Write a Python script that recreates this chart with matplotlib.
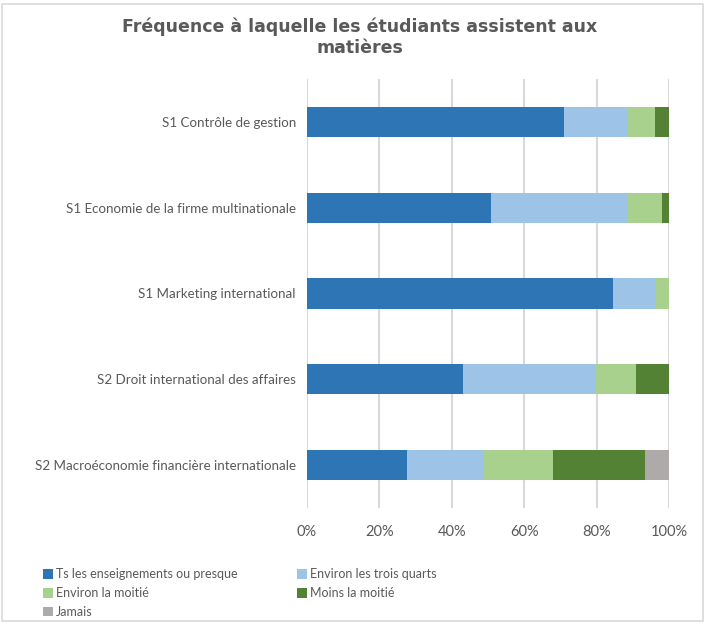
import matplotlib
matplotlib.use("Agg")
import matplotlib.pyplot as plt
import numpy as np
from matplotlib.patches import Rectangle, Patch

plt.rcParams['font.family'] = ['Lato', 'DejaVu Sans']

# data (shares in %)
courses = ['S1 Contrôle de gestion',
           'S1 Economie de la firme multinationale',
           'S1 Marketing international',
           'S2 Droit international des affaires',
           'S2 Macroéconomie financière internationale']
series = ['Ts les enseignements ou presque', 'Environ les trois quarts',
          'Environ la moitié', 'Moins la moitié', 'Jamais']
ts_les = [71.0, 50.9, 84.6, 43.2, 27.6]
trois_quarts = [17.5, 37.7, 11.5, 36.4, 21.2]
moitie = [7.5, 9.4, 3.9, 11.4, 19.2]
moins_moitie = [4.0, 2.0, 0.0, 9.0, 25.4]
jamais = [0.0, 0.0, 0.0, 0.0, 6.6]
colors = ['#2E75B6', '#9DC3E6', '#A9D18E', '#548235', '#AEAAAA']

W, H = 707, 624
fig = plt.figure(figsize=(W / 100, H / 100), dpi=100)
fig.patch.set_facecolor('white')

# chart border
fig.patches.append(Rectangle((2 / W, 3 / H), 701 / W, 617 / H, transform=fig.transFigure,
                             fill=False, edgecolor='#D9D9D9', linewidth=1.2))

ax = fig.add_axes([307 / W, 1 - 508 / H, 362 / W, 429 / H])

grey = '#595959'
ypos = np.arange(len(courses))
left = np.zeros(len(courses))
for vals, name, col in zip([ts_les, trois_quarts, moitie, moins_moitie, jamais], series, colors):
    vals = np.array(vals)
    ax.barh(ypos, vals, left=left, height=0.35, color=col, linewidth=0, label=name, zorder=3)
    left += vals

ax.set_xlim(0, 100)
ax.set_ylim(len(courses) - 0.5, -0.5)
ax.set_xticks(np.arange(0, 101, 20))
ax.set_xticklabels([f'{v}%' for v in range(0, 101, 20)])
ax.set_yticks(ypos)
ax.set_yticklabels(courses)
ax.tick_params(axis='x', length=0, pad=12, labelsize=10.5, labelcolor=grey)
ax.tick_params(axis='y', length=0, pad=8, labelsize=9.6, labelcolor=grey)
ax.grid(axis='x', color='#D9D9D9', linewidth=1.5, zorder=0)
for s in ax.spines.values():
    s.set_visible(False)

fig.text(360 / W, 1 - 17 / H, 'Fréquence à laquelle les étudiants assistent aux\nmatières',
         ha='center', va='top', fontsize=12.5, fontweight='bold', color=grey, linespacing=1.25,
         family=['DejaVu Sans'])

handles = [Patch(facecolor=c, edgecolor='none') for c in colors]
order = [0, 2, 4, 1, 3]
fig.legend([handles[i] for i in order], [series[i] for i in order],
           loc='upper left', bbox_to_anchor=(37 / W, 1 - 562 / H), ncol=2, frameon=False,
           fontsize=9, labelcolor=grey, handlelength=0.8, handleheight=0.8,
           handletextpad=0.25, columnspacing=4.7, labelspacing=0.55, borderpad=0)

fig.savefig('out.png', dpi=100)
